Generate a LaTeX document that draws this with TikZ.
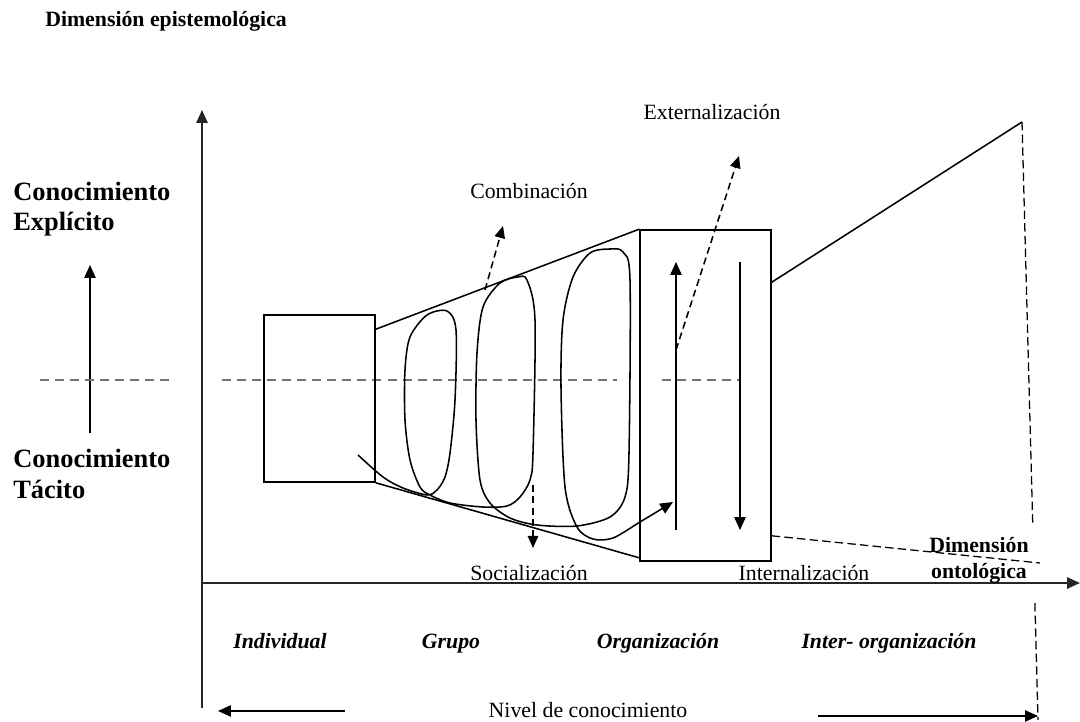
\documentclass[tikz,border=0pt]{standalone}
\usepackage{fontspec}
\setmainfont{Liberation Serif}
\usetikzlibrary{arrows.meta,positioning}
\newcommand{\nkText}{\fontsize{15.5}{18}\selectfont}
\newcommand{\nkBig}{\fontsize{18.8}{21.4}\selectfont}
\tikzset{
  axisArrow/.style={-{Triangle[length=3.2mm,width=2.8mm]}, line width=1.4pt, draw=black!85},
  solidArrow/.style={-{Triangle[length=3.2mm,width=2.8mm]}, line width=1.1pt},
  dashArrow/.style={-{Triangle[length=3mm,width=2.6mm]}, line width=1.1pt, dash pattern=on 5pt off 3pt},
  dashLine/.style={line width=0.9pt, dash pattern=on 6pt off 3pt},
  midLine/.style={line width=0.8pt, draw=black!55, dash pattern=on 6.4pt off 4.3pt},
  edgeLine/.style={line width=1.1pt},
  boxShape/.style={draw, line width=1.1pt, inner sep=0pt},
  stageLabel/.style={font=\nkText, inner sep=0pt, anchor=base},
  levelLabel/.style={font=\nkText\bfseries\itshape, inner sep=0pt, anchor=base},
  sideLabel/.style={font=\nkBig\bfseries, align=left, inner sep=0pt, anchor=base west}
}
\begin{document}
\begin{tikzpicture}[x=0.025cm, y=-0.025cm]
  \useasboundingbox (0,0) rectangle (1080,722);

  \node[font=\nkText\bfseries, inner sep=0pt, anchor=base west] (epist) at (45,27) {Dimensión epistemológica};
  \node[sideLabel] (explicit) at (13,231) {Conocimiento\\ Explícito};
  \node[sideLabel] (tacit) at (13,498) {Conocimiento\\ Tácito};

  \coordinate (yBot) at (202,708);
  \coordinate (yTop) at (202,110);
  \coordinate (xEnd) at (1080,583);
  \draw[axisArrow] (yBot) -- (yTop);
  \draw[axisArrow] (202,583) -- (xEnd);

  \coordinate (ekLow) at (90,433);
  \coordinate (ekHigh) at (90,265);
  \draw[solidArrow] (ekLow) -- (ekHigh);
  \draw[midLine] (40,380) -- (175,380);
  \draw[midLine] (222,380) -- (617,380);
  \draw[midLine] (662,380) -- (740,380);

  \node[boxShape, minimum width=2.775cm, minimum height=4.175cm] (indiv) at (319.5,398.5) {};
  \node[boxShape, minimum width=3.275cm, minimum height=8.275cm] (organ) at (705.5,395.5) {};
  \coordinate (apex) at (1022,122);
  \draw[edgeLine] ([yshift=-0.375cm]indiv.north east) -- (organ.north west);
  \draw[edgeLine] (indiv.south east) -- ([yshift=0.1cm]organ.south west);
  \draw[edgeLine] ([yshift=-1.325cm]organ.north east) -- (apex);
  \draw[dashLine] (apex) -- (1032.7,523);
  \draw[dashLine] (1034.9,603) -- (1038,720);
  \draw[dashLine] ([yshift=0.65cm]organ.south east) -- (1040,563);

  \draw[solidArrow] (676,530) -- (676,262);
  \draw[solidArrow] (740,262) -- (740,530);

  \draw[solidArrow] plot[smooth, tension=0.5] coordinates {
    (358,455) (383,477) (403,488) (427,495) (437,490) (445,477) (450,453)
    (455,400) (456,330) (447,311) (427,315) (410,337) (405,370) (405,420)
    (410,460) (420,487) (430,495) (450,503) (483,507) (507,506) (520,497)
    (530,480) (533,453) (535,320) (527,280) (518,277) (500,283) (483,307)
    (477,353) (476,420) (480,480) (490,503) (510,518) (537,525) (577,526)
    (610,517) (625,497) (629,453) (630,280) (623,252) (610,249) (590,253)
    (573,277) (563,320) (561,387) (565,487) (577,527) (593,539) (613,538)
    (640,522) (673,502)};

  \draw[dashArrow] (485,290) -- (503,226);
  \draw[dashArrow] (676,350) -- (739,156);
  \draw[dashArrow] (533,485) -- (533,548);

  \node[stageLabel] (comb) at (529,199) {Combinación};
  \node[stageLabel] (extern) at (712,120) {Externalización};
  \node[stageLabel] (social) at (529,580) {Socialización};
  \node[stageLabel] (intern) at (804,580) {Internalización};
  \node[font=\nkText\bfseries, align=center, inner sep=0pt, anchor=base] (onto) at (979,578) {Dimensión\\ ontológica};

  \node[levelLabel] (lvInd) at (280,648) {Individual};
  \node[levelLabel] (lvGrp) at (451,648) {Grupo};
  \node[levelLabel] (lvOrg) at (658,648) {Organización};
  \node[levelLabel] (lvInter) at (889,648) {Inter- organización};

  \node[stageLabel] (nivel) at (588,717) {Nivel de conocimiento};
  \coordinate (leftEnd) at (218,711);
  \coordinate (rightEnd) at (1038,716);
  \draw[solidArrow] (345,711) -- (leftEnd);
  \draw[solidArrow] (818,716) -- (rightEnd);
\end{tikzpicture}
\end{document}
